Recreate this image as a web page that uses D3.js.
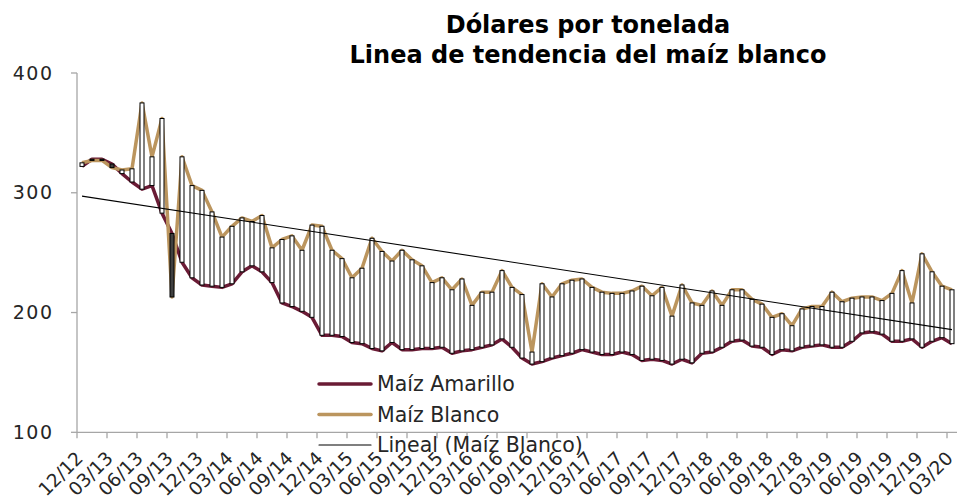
<!DOCTYPE html>
<html>
<head>
<meta charset="utf-8">
<script src="https://cdn.jsdelivr.net/npm/d3@7"></script>
<style>
  html, body { margin: 0; padding: 0; background: #fff; }
  svg { display: block; }
</style>
</head>
<body>
<svg id="chart" width="957" height="502"></svg>
<script>
const categories = [
  "12/12","01/13","02/13","03/13","04/13","05/13","06/13","07/13","08/13","09/13","10/13","11/13",
  "12/13","01/14","02/14","03/14","04/14","05/14","06/14","07/14","08/14","09/14","10/14","11/14",
  "12/14","01/15","02/15","03/15","04/15","05/15","06/15","07/15","08/15","09/15","10/15","11/15",
  "12/15","01/16","02/16","03/16","04/16","05/16","06/16","07/16","08/16","09/16","10/16","11/16",
  "12/16","01/17","02/17","03/17","04/17","05/17","06/17","07/17","08/17","09/17","10/17","11/17",
  "12/17","01/18","02/18","03/18","04/18","05/18","06/18","07/18","08/18","09/18","10/18","11/18",
  "12/18","01/19","02/19","03/19","04/19","05/19","06/19","07/19","08/19","09/19","10/19","11/19",
  "12/19","01/20","02/20","03/20"
];
const tickLabels = [
  "12/12","03/13","06/13","09/13","12/13","03/14","06/14","09/14","12/14","03/15",
  "06/15","09/15","12/15","03/16","06/16","09/16","12/16","03/17","06/17","09/17",
  "12/17","03/18","06/18","09/18","12/18","03/19","06/19","09/19","12/19","03/20"
];
const maizAmarillo = [
  322,328,328,324,316,309,303,306,283,266,242,229,
  223,222,221,224,234,239,234,225,208,205,201,196,
  181,181,180,175,174,170,168,175,169,169,170,170,
  171,166,168,169,171,173,178,171,162,157,159,162,
  164,166,169,167,165,165,167,165,160,161,160,157,
  161,158,166,167,171,176,177,172,171,165,169,168,
  171,172,173,171,171,176,183,184,182,176,176,178,
  171,176,179,174
];
const maizBlanco = [
  325,327,327,321,319,320,375,330,362,213,330,306,
  302,284,263,272,279,276,281,254,261,264,252,273,
  272,252,245,229,237,262,251,243,252,244,239,225,
  229,219,228,206,217,217,235,221,215,167,224,213,
  224,227,228,221,217,216,216,218,222,214,221,197,
  223,208,206,218,206,219,219,211,207,196,199,189,
  203,205,205,217,209,212,213,213,210,216,235,208,
  249,234,222,219
];
const yTicks = [100, 200, 300, 400];
const titleLines = ["Dólares por tonelada", "Linea de tendencia del maíz blanco"];
const legendLabels = ["Maíz Amarillo", "Maíz Blanco", "Lineal (Maíz Blanco)"];

const colAmarillo = "#6a1b35";
const colBlanco = "#bb955e";
const FONT = "'DejaVu Sans', sans-serif";

const svg = d3.select("#chart");
const x = d3.scaleBand().domain(categories).range([77, 957]).paddingInner(0).paddingOuter(0);
const y = d3.scaleLinear().domain([100, 400]).range([432.3, 73]);
const cx = c => x(c) + x.bandwidth() / 2;

// linear trend (least squares on Maíz Blanco)
const n = maizBlanco.length;
const idx = d3.range(n);
const mx = d3.mean(idx), my = d3.mean(maizBlanco);
const slope = d3.sum(idx, i => (i - mx) * (maizBlanco[i] - my)) / d3.sum(idx, i => (i - mx) * (i - mx));
const intercept = my - slope * mx;

// Lines
const lineGen = arr => d3.line().x((d, i) => cx(categories[i])).y(d => y(d))(arr);
svg.append("path").attr("d", lineGen(maizAmarillo)).attr("fill", "none")
  .attr("stroke", colAmarillo).attr("stroke-width", 3.5).attr("stroke-linejoin", "round");
svg.append("path").attr("d", lineGen(maizBlanco)).attr("fill", "none")
  .attr("stroke", colBlanco).attr("stroke-width", 3.5).attr("stroke-linejoin", "round");

// Up/down bars
const bw = 4;
svg.append("g").selectAll("rect").data(categories).join("rect")
  .attr("x", c => cx(c) - bw / 2)
  .attr("width", bw)
  .attr("y", (c, i) => y(Math.max(maizAmarillo[i], maizBlanco[i])))
  .attr("height", (c, i) => Math.max(1, Math.abs(y(maizAmarillo[i]) - y(maizBlanco[i]))))
  .attr("fill", (c, i) => maizBlanco[i] >= maizAmarillo[i] ? "#ffffff" : "#404040")
  .attr("stroke", "#000").attr("stroke-width", 1);

// Trend line
svg.append("line")
  .attr("x1", cx(categories[0])).attr("y1", y(intercept))
  .attr("x2", cx(categories[n - 1])).attr("y2", y(intercept + slope * (n - 1)))
  .attr("stroke", "#000").attr("stroke-width", 1.1);

// Axes
const axisColor = "#a6a6a6";
const gy = svg.append("g");
gy.append("line").attr("x1", 77).attr("x2", 77).attr("y1", y(400)).attr("y2", y(100))
  .attr("stroke", axisColor).attr("stroke-width", 1.3);
gy.selectAll("line.t").data(yTicks).join("line").attr("class", "t")
  .attr("x1", 71).attr("x2", 77).attr("y1", d => y(d)).attr("y2", d => y(d))
  .attr("stroke", axisColor).attr("stroke-width", 1.3);
gy.selectAll("text").data(yTicks).join("text")
  .attr("x", 53.5).attr("y", d => y(d) + 6.5)
  .attr("text-anchor", "end").attr("font-family", FONT).attr("font-size", 19)
  .attr("letter-spacing", 1.5)
  .attr("fill", "#262626").text(d => d);

const gx = svg.append("g");
gx.append("line").attr("x1", 77).attr("x2", 957).attr("y1", y(100)).attr("y2", y(100))
  .attr("stroke", axisColor).attr("stroke-width", 1.3);
gx.selectAll("line.t").data(tickLabels).join("line").attr("class", "t")
  .attr("x1", d => x(d)).attr("x2", d => x(d))
  .attr("y1", y(100)).attr("y2", y(100) + 6)
  .attr("stroke", axisColor).attr("stroke-width", 1.3);
gx.selectAll("text").data(tickLabels).join("text")
  .attr("transform", d => `translate(${cx(d) + 2},${y(100) + 27}) rotate(-45)`)
  .attr("text-anchor", "end")
  .attr("font-family", FONT).attr("font-size", 18.5).attr("fill", "#262626")
  .text(d => d);

// Title
svg.append("g").selectAll("text").data(titleLines).join("text")
  .attr("x", 588).attr("y", (d, i) => 33 + i * 29.5)
  .attr("text-anchor", "middle").attr("font-family", FONT).attr("font-weight", "bold")
  .attr("font-size", 24).attr("fill", "#000").text(d => d);

// Legend
const lg = svg.append("g");
const legendStyles = [
  { color: colAmarillo, w: 3.5 },
  { color: colBlanco, w: 3.5 },
  { color: "#000", w: 1.1 }
];
legendLabels.forEach((lab, i) => {
  const yy = 384 + i * 30.5;
  lg.append("line").attr("x1", 319).attr("x2", 371).attr("y1", yy).attr("y2", yy)
    .attr("stroke", legendStyles[i].color).attr("stroke-width", legendStyles[i].w)
    .attr("stroke-linecap", "round");
  lg.append("text").attr("x", 377).attr("y", yy + 7)
    .attr("font-family", FONT).attr("font-size", 20.5).attr("fill", "#262626").text(lab);
});
</script>
</body>
</html>
